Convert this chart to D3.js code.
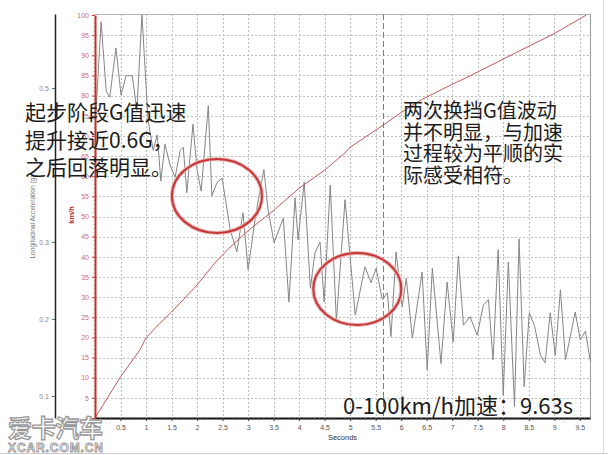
<!DOCTYPE html>
<html><head><meta charset="utf-8">
<script src="https://cdn.jsdelivr.net/npm/d3@7/dist/d3.min.js"></script>
<style>body{margin:0;background:#fff} svg{display:block}</style>
</head><body>
<svg id="c" width="608" height="455"></svg>
<script>
// ---- data ----
const gTime = [0.02,0.12,0.22,0.29,0.41,0.51,0.61,0.73,0.82,0.92,1.04,1.14,1.22,1.29,1.37,1.47,1.57,1.67,1.73,1.80,1.92,2.00,2.08,2.22,2.29,2.39,2.49,2.65,2.78,2.90,3.00,3.12,3.20,3.31,3.39,3.51,3.69,3.80,3.92,3.98,4.10,4.22,4.31,4.41,4.49,4.61,4.73,4.90,5.10,5.29,5.41,5.51,5.63,5.73,5.80,5.90,6.02,6.10,6.22,6.41,6.51,6.61,6.78,6.90,7.02,7.12,7.22,7.35,7.49,7.61,7.71,7.80,7.90,8.00,8.10,8.22,8.31,8.41,8.51,8.61,8.73,8.82,8.92,9.02,9.12,9.22,9.41,9.51,9.61,9.71];
const gValue = [0.471,0.586,0.496,0.488,0.552,0.491,0.516,0.516,0.471,0.595,0.458,0.419,0.439,0.379,0.427,0.400,0.384,0.419,0.423,0.364,0.453,0.394,0.366,0.477,0.360,0.377,0.383,0.316,0.287,0.338,0.264,0.322,0.355,0.394,0.342,0.299,0.331,0.222,0.357,0.303,0.378,0.240,0.286,0.300,0.222,0.374,0.197,0.355,0.205,0.268,0.247,0.266,0.225,0.234,0.177,0.287,0.216,0.253,0.175,0.261,0.134,0.266,0.142,0.248,0.170,0.282,0.192,0.203,0.179,0.218,0.225,0.147,0.290,0.101,0.274,0.086,0.304,0.112,0.208,0.192,0.153,0.143,0.208,0.153,0.238,0.147,0.209,0.173,0.184,0.144];
const speedTime = [0,0.5,0.88,1.0,1.24,1.5,2.0,2.35,2.65,3.0,3.5,4.0,4.5,4.9,5.0,5.65,6.0,6.4,7.0,7.35,8.24,9.0,9.63];
const speedKmh  = [0,10.2,16.9,19.9,23.1,26.3,33,38.5,42.4,46.5,51.5,57,61.5,65.8,67.2,72.7,75.8,79,82.8,84.9,90.6,95.4,100];
const xTicks = [0,0.5,1,1.5,2,2.5,3,3.5,4,4.5,5,5.5,6,6.5,7,7.5,8,8.5,9,9.5];
const xTickLabels = ["0","0.5","1","1.5","2","2.5","3","3.5","4","4.5","5","5.5","6","6.5","7","7.5","8","8.5","9","9.5"];
const kmhTicks = [0,5,10,15,20,25,30,35,40,45,50,55,60,65,70,75,80,85,90,95,100];
const gTicks = [0.1,0.2,0.3,0.4,0.5];
const gTickLabels = ["0.1","0.2","0.3","","0.5"];   // 0.4 is hidden under the note in the original
const shiftTime = 5.65;
const leftNote = ["起步阶段G值迅速","提升接近0.6G，","之后回落明显。"];
const rightNote = ["两次换挡G值波动","并不明显，与加速","过程较为平顺的实","际感受相符。"];
const resultNote = "0-100km/h加速：9.63s";
const xTitle = "Seconds", gTitle = "Longitudinal Acceleration (g)", kmhTitle = "km/h";

// ---- layout ----
const svg = d3.select("#c");
const L = 95, R = 590, T = 14, B = 418, GX = 55;
const x = d3.scaleLinear([0, 9.7], [L, R]);
const kmh = d3.scaleLinear([0, 100], [B, 15]);
const g = d3.scaleLinear([0.0714, 0.5961], [B, T]);
const small = "'Liberation Sans', Arial, sans-serif";
const cjk = "'Noto Sans CJK SC', sans-serif";

svg.append("rect").attr("width",608).attr("height",455).attr("fill","#fff");
// outer frame
svg.append("line").attr("x1",0).attr("x2",608).attr("y1",453.5).attr("y2",453.5).attr("stroke","#cfcfcf");
svg.append("line").attr("x1",603.5).attr("x2",603.5).attr("y1",0).attr("y2",453).attr("stroke","#dcdcdc");

// grid
const grid = svg.append("g").attr("stroke","#bdbdbd").attr("stroke-dasharray","2,2").attr("stroke-width",1);
grid.selectAll(".v").data(xTicks.filter(d=>d>0)).join("line")
  .attr("x1",d=>Math.round(x(d))+0.5).attr("x2",d=>Math.round(x(d))+0.5).attr("y1",T).attr("y2",B);
grid.selectAll(".h").data(kmhTicks.filter(d=>d>0 && d<100)).join("line")
  .attr("x1",L).attr("x2",R).attr("y1",d=>Math.round(kmh(d))+0.5).attr("y2",d=>Math.round(kmh(d))+0.5);
// frame top/right
svg.append("line").attr("x1",L).attr("x2",R).attr("y1",T+0.5).attr("y2",T+0.5).attr("stroke","#b5b5b5");
svg.append("line").attr("x1",R+0.5).attr("x2",R+0.5).attr("y1",T).attr("y2",B).attr("stroke","#9a9a9a");

// gear-shift dashed marker
svg.append("line").attr("x1",Math.round(x(shiftTime))+0.5).attr("x2",Math.round(x(shiftTime))+0.5)
  .attr("y1",T).attr("y2",B).attr("stroke","#a86a6a").attr("stroke-dasharray","6,3").attr("stroke-width",1);

// G trace
const gData = gTime.map((t,i)=>[t,gValue[i]]);
svg.append("path").datum(gData).attr("fill","none").attr("stroke","#858585").attr("stroke-width",1)
  .attr("d", d3.line().x(d=>x(d[0])).y(d=>g(d[1])));

// speed trace
const sData = speedTime.map((t,i)=>[t,speedKmh[i]]);
svg.append("path").datum(sData).attr("fill","none").attr("stroke","#c25a5a").attr("stroke-width",1)
  .attr("d", d3.line().x(d=>x(d[0])).y(d=>kmh(d[1])));

// x axis
const xa = svg.append("g").attr("transform",`translate(0,${B})`)
  .call(d3.axisBottom(x).tickValues(xTicks).tickFormat((d,i)=>xTickLabels[i]).tickSize(3).tickSizeOuter(0));
xa.select(".domain").attr("stroke","#111").attr("stroke-width",2);
xa.selectAll(".tick line").attr("stroke","#333");
xa.selectAll("text").attr("font-family",small).attr("font-size",7).attr("fill","#555").attr("dy","0.9em");
svg.append("g").attr("stroke","#555").selectAll("line").data(d3.range(0,98).map(i=>i/10)).join("line")
  .attr("x1",d=>x(d)).attr("x2",d=>x(d)).attr("y1",B).attr("y2",B+1.8);
svg.append("text").attr("x",(L+R)/2).attr("y",440).attr("text-anchor","middle")
  .attr("font-family",small).attr("font-size",7.5).attr("fill","#333").text(xTitle);

// km/h axis
const ka = svg.append("g").attr("transform",`translate(${L},0)`)
  .call(d3.axisLeft(kmh).tickValues(kmhTicks).tickSize(3).tickSizeOuter(0));
ka.select(".domain").attr("stroke","#c0302a").attr("stroke-width",2);
ka.selectAll(".tick line").attr("stroke","#c0302a");
ka.selectAll("text").attr("font-family",small).attr("font-size",7).attr("fill","#d06a6a");
svg.append("g").attr("stroke","#d08080").selectAll("line").data(d3.range(0,101)).join("line")
  .attr("x1",L-1.5).attr("x2",L).attr("y1",d=>kmh(d)).attr("y2",d=>kmh(d));
svg.append("text").attr("transform",`translate(74,215) rotate(-90)`).attr("text-anchor","middle")
  .attr("font-family",small).attr("font-size",7.5).attr("font-weight","bold").attr("fill","#b83030").text(kmhTitle);

// G axis
const ga = svg.append("g").attr("transform",`translate(${GX},0)`)
  .call(d3.axisLeft(g).tickValues(gTicks).tickFormat((d,i)=>gTickLabels[i]).tickSize(3).tickSizeOuter(0));
ga.select(".domain").attr("stroke","#222").attr("stroke-width",1.5);
ga.selectAll(".tick line").attr("stroke","#666");
ga.selectAll("text").attr("font-family",small).attr("font-size",7).attr("fill","#888");
svg.append("text").attr("transform",`translate(35,217) rotate(-90)`).attr("text-anchor","middle")
  .attr("font-family",small).attr("font-size",6.6).attr("fill","#777").text(gTitle);

// ellipses
const ell = [[2.39,55.1,45,37],[5.14,32.0,44,36]];
ell.forEach(e=>{
  svg.append("ellipse").attr("cx",x(e[0])).attr("cy",kmh(e[1])).attr("rx",e[2]).attr("ry",e[3])
    .attr("fill","none").attr("stroke","#e8b8b8").attr("stroke-width",4);
  svg.append("ellipse").attr("cx",x(e[0])).attr("cy",kmh(e[1])).attr("rx",e[2]).attr("ry",e[3])
    .attr("fill","none").attr("stroke","#c83838").attr("stroke-width",2);
});

// notes
const ln = svg.append("text").attr("font-family",cjk).attr("font-size",21).attr("fill","#1c1c1c");
leftNote.forEach((s,i)=>ln.append("tspan").attr("x",25).attr("y",120+i*27.5).text(s));
const rn = svg.append("text").attr("font-family",cjk).attr("font-size",20).attr("fill","#1c1c1c");
rightNote.forEach((s,i)=>rn.append("tspan").attr("x",403).attr("y",118+i*21.5).text(s));
svg.append("text").attr("x",343).attr("y",414).attr("font-family",cjk).attr("font-size",22).attr("fill","#1c1c1c").text(resultNote);

// watermark
svg.append("text").attr("x",8).attr("y",437).attr("font-family",cjk).attr("font-weight","bold").attr("font-size",24)
  .attr("textLength",95).attr("fill","#fff").attr("stroke","#999").attr("stroke-width",1.3).text("爱卡汽车");
svg.append("text").attr("x",8).attr("y",452).attr("font-family",small).attr("font-weight","bold").attr("font-size",12)
  .attr("textLength",95).attr("fill","#fff").attr("stroke","#999").attr("stroke-width",0.9).text("XCAR.COM.CN");
</script>
</body></html>
